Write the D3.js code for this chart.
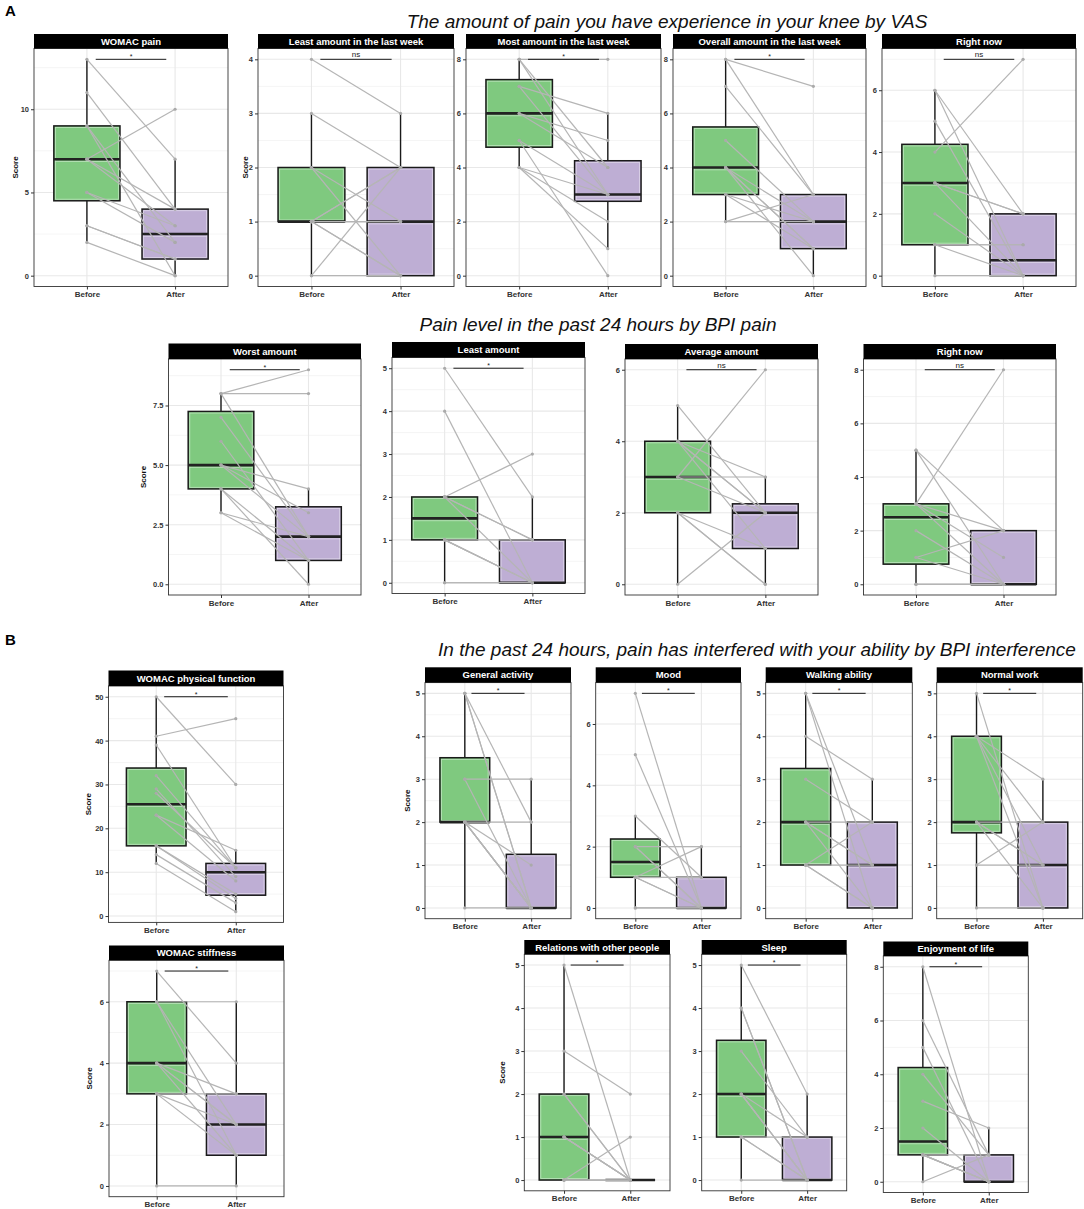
<!DOCTYPE html>
<html>
<head>
<meta charset="utf-8">
<script src="https://cdn.jsdelivr.net/npm/d3@7"></script>
<style>
  body { margin: 0; background: #fff; }
  svg { font-family: "Liberation Sans", Arial, sans-serif; }
</style>
</head>
<body>
<svg id="chart" width="1084" height="1209"></svg>
<script>
// ---- data (one subject per index, Before -> After) ----
const groups = ["Before", "After"];

const panelNames = [
  "WOMAC pain", "Least amount in the last week", "Most amount in the last week",
  "Overall amount in the last week", "Right now",
  "Worst amount", "Least amount", "Average amount", "Right now",
  "WOMAC physical function", "General activity", "Mood", "Walking ability", "Normal work",
  "WOMAC stiffness", "Relations with other people", "Sleep", "Enjoyment of life"
];

const sigLabels = ["*", "ns", "*", "*", "ns", "*", "*", "ns", "ns",
  "*", "*", "*", "*", "*", "*", "*", "*", "*"];

const beforeScores = [
  [13, 11, 9, 9, 7, 7, 7, 5, 5, 3, 3, 2],
  [4, 3, 2, 2, 1, 1, 1, 1, 1, 1, 0, 0],
  [8, 8, 8, 7, 7, 6, 6, 5, 5, 4, 4, 4],
  [8, 8, 7, 5, 4, 4, 4, 4, 3, 3, 2, 2],
  [6, 6, 5, 4, 3, 3, 3, 2, 1, 1, 1, 0],
  [8, 8, 8, 7, 6, 5, 5, 5, 4, 4, 3, 3],
  [5, 4, 2, 2, 2, 2, 1, 1, 1, 1, 0, 0],
  [5, 4, 4, 4, 4, 3, 3, 3, 2, 2, 2, 0],
  [5, 5, 3, 3, 3, 3, 2, 1, 1, 0, 0, 0],
  [50, 41, 39, 32, 29, 28, 23, 23, 16, 16, 14, 12],
  [5, 5, 5, 3, 3, 2, 2, 2, 2, 2, 2, 0],
  [7, 5, 3, 2, 2, 2, 1, 1, 1, 1, 0, 0],
  [5, 5, 4, 3, 2, 2, 2, 2, 1, 1, 1, 1],
  [5, 4, 4, 4, 4, 2, 2, 2, 2, 1, 1, 0],
  [7, 6, 6, 6, 4, 4, 4, 4, 3, 3, 3, 0],
  [5, 3, 2, 2, 1, 1, 1, 1, 0, 0, 0, 0],
  [5, 4, 4, 3, 2, 2, 2, 2, 1, 1, 1, 0],
  [8, 6, 5, 4, 3, 2, 1, 1, 1, 1, 1, 0]
];

const afterScores = [
  [7, 4, 0, 2, 10, 3, 4, 3, 2, 1, 1, 0],
  [3, 2, 1, 0, 2, 1, 0, 2, 1, 0, 2, 0],
  [8, 3, 4, 6, 3, 5, 4, 3, 0, 3, 2, 1],
  [7, 3, 3, 2, 2, 1, 1, 0, 2, 1, 3, 2],
  [2, 0, 0, 7, 2, 0, 2, 0, 1, 0, 1, 0],
  [9, 8, 2, 2, 1, 4, 3, 2, 1, 0, 2, 1],
  [2, 0, 3, 1, 0, 1, 1, 0, 0, 0, 0, 0],
  [2, 3, 2, 2, 1, 6, 3, 2, 1, 0, 0, 2],
  [2, 0, 8, 2, 0, 1, 0, 2, 0, 0, 0, 0],
  [30, 45, 11, 11, 9, 11, 15, 8, 5, 4, 3, 1],
  [2, 0, 0, 3, 0, 2, 1, 0, 0, 0, 0, 0],
  [0, 0, 1, 2, 0, 0, 2, 1, 0, 0, 0, 0],
  [0, 1, 3, 2, 2, 1, 0, 1, 1, 0, 2, 0],
  [0, 3, 2, 1, 0, 2, 1, 0, 1, 2, 1, 0],
  [4, 6, 1, 2, 3, 2, 2, 1, 3, 2, 1, 0],
  [0, 2, 0, 0, 0, 0, 0, 0, 1, 0, 0, 0],
  [2, 0, 0, 1, 1, 0, 0, 0, 1, 0, 0, 0],
  [0, 1, 0, 1, 2, 0, 0, 0, 0, 0, 1, 1]
];

const yTicks = [
  [0, 5, 10], [0, 1, 2, 3, 4], [0, 2, 4, 6, 8], [0, 2, 4, 6, 8], [0, 2, 4, 6],
  [0, 2.5, 5, 7.5], [0, 1, 2, 3, 4, 5], [0, 2, 4, 6], [0, 2, 4, 6, 8],
  [0, 10, 20, 30, 40, 50], [0, 1, 2, 3, 4, 5], [0, 2, 4, 6], [0, 1, 2, 3, 4, 5], [0, 1, 2, 3, 4, 5],
  [0, 2, 4, 6], [0, 1, 2, 3, 4, 5], [0, 1, 2, 3, 4, 5], [0, 2, 4, 6, 8]
];

const sectionTitles = [
  "The amount of pain you have experience in your knee by VAS",
  "Pain level in the past 24 hours by BPI pain",
  "In the past 24 hours, pain has interfered with your ability by BPI interference"
];

// ---- layout (pixels): left, right, strip top, plot top, plot bottom, "Score" x ----
const layout = [
  [34, 228, 34, 48.5, 286.5, 15],
  [258, 454, 34, 48.5, 286.5, 245],
  [466, 661, 34, 48.5, 286.5, null],
  [673, 866, 34, 48.5, 286.5, null],
  [882, 1076, 34, 48.5, 286.5, null],
  [168.5, 361, 343.5, 359, 595, 143],
  [392, 585, 342, 357.5, 593.5, null],
  [625, 818, 344, 359, 595, null],
  [863.5, 1056, 344, 359, 595, null],
  [108.5, 283.5, 670.5, 686, 922.4, 88],
  [425, 571, 667.3, 682.6, 918.7, 407],
  [595.7, 741, 667.3, 682.6, 918.7, null],
  [765.7, 912.3, 667.3, 682.6, 918.7, null],
  [936.7, 1082.7, 667.3, 682.6, 918.7, null],
  [109, 284, 945.5, 960.3, 1196.7, 89],
  [524.3, 670, 940, 954.3, 1190.8, 502],
  [701.7, 846.7, 940, 954.3, 1190.8, null],
  [883.3, 1028.3, 941.5, 956, 1192.5, null]
];
const titlePos = [[667, 28], [598, 331], [757, 656]];
const boxColors = ["#7fc97f", "#beaed4"];

const svg = d3.select("#chart");

function drawPanel(i) {
  const [left, right, stripTop, plotTop, plotBottom, scoreX] = layout[i];
  const before = beforeScores[i];
  const after = afterScores[i];
  const all = before.concat(after);
  const lo = d3.min(all), hi = d3.max(all);
  const pad = (hi - lo) * 0.05;

  const x = d3.scalePoint().domain(groups).range([left, right]).padding(0.6);
  const y = d3.scaleLinear().domain([lo - pad, hi + pad]).range([plotBottom, plotTop]);
  const step = x.step();
  const g = svg.append("g");

  // grid
  const ticks = yTicks[i];
  const half = (ticks[1] - ticks[0]) / 2;
  const minor = d3.range(ticks[0] - half, hi + pad, half * 2).filter(v => v > lo - pad);
  g.append("g").selectAll("line").data(minor).join("line")
    .attr("x1", left).attr("x2", right)
    .attr("y1", d => y(d)).attr("y2", d => y(d))
    .attr("stroke", "#f2f2f2").attr("stroke-width", 0.8);
  g.append("g").selectAll("line").data(ticks).join("line")
    .attr("x1", left).attr("x2", right)
    .attr("y1", d => y(d)).attr("y2", d => y(d))
    .attr("stroke", "#e8e8e8").attr("stroke-width", 1.1);
  g.append("g").selectAll("line").data(groups).join("line")
    .attr("x1", d => x(d)).attr("x2", d => x(d))
    .attr("y1", plotTop).attr("y2", plotBottom)
    .attr("stroke", "#e8e8e8").attr("stroke-width", 1.1);

  // boxplots
  [before, after].forEach((vals, k) => {
    const s = vals.slice().sort(d3.ascending);
    const q1 = d3.quantile(s, 0.25), med = d3.quantile(s, 0.5), q3 = d3.quantile(s, 0.75);
    const iqr = q3 - q1;
    const wLo = d3.min(s.filter(v => v >= q1 - 1.5 * iqr));
    const wHi = d3.max(s.filter(v => v <= q3 + 1.5 * iqr));
    const cx = x(groups[k]), bw = step * 0.75;

    g.append("line").attr("x1", cx).attr("x2", cx).attr("y1", y(q3)).attr("y2", y(wHi))
      .attr("stroke", "#1a1a1a").attr("stroke-width", 1.4);
    g.append("line").attr("x1", cx).attr("x2", cx).attr("y1", y(q1)).attr("y2", y(wLo))
      .attr("stroke", "#1a1a1a").attr("stroke-width", 1.4);
    g.append("rect")
      .attr("x", cx - bw / 2).attr("y", y(q3))
      .attr("width", bw).attr("height", y(q1) - y(q3))
      .attr("fill", boxColors[k]).attr("stroke", "#1a1a1a").attr("stroke-width", 1.5);
    if (y(q1) - y(q3) > 4) {
      g.append("rect")
        .attr("x", cx - bw / 2 + 1.6).attr("y", y(q3) + 1.6)
        .attr("width", bw - 3.2).attr("height", y(q1) - y(q3) - 3.2)
        .attr("fill", "none").attr("stroke", "#ffffff").attr("stroke-opacity", 0.5)
        .attr("stroke-width", 0.8);
    }
    if (y(q1) - y(med) > 4) {
      g.append("line")
        .attr("x1", cx - bw / 2 + 1.6).attr("x2", cx + bw / 2 - 1.6)
        .attr("y1", y(med) + 2.3).attr("y2", y(med) + 2.3)
        .attr("stroke", "#ffffff").attr("stroke-opacity", 0.5).attr("stroke-width", 0.8);
    }
    g.append("line")
      .attr("x1", cx - bw / 2).attr("x2", cx + bw / 2)
      .attr("y1", y(med)).attr("y2", y(med))
      .attr("stroke", "#222").attr("stroke-width", 2.6);
  });

  // paired lines and points
  const pairs = d3.zip(before, after);
  g.append("g").selectAll("line").data(pairs).join("line")
    .attr("x1", x("Before")).attr("x2", x("After"))
    .attr("y1", d => y(d[0])).attr("y2", d => y(d[1]))
    .attr("stroke", "#b5b5b5").attr("stroke-width", 1.2);
  const pts = pairs.flatMap(d => [[x("Before"), d[0]], [x("After"), d[1]]]);
  g.append("g").selectAll("circle").data(pts).join("circle")
    .attr("cx", d => d[0]).attr("cy", d => y(d[1])).attr("r", 1.6)
    .attr("fill", "#aaaaaa");

  // panel border
  g.append("rect").attr("x", left).attr("y", plotTop)
    .attr("width", right - left).attr("height", plotBottom - plotTop)
    .attr("fill", "none").attr("stroke", "#333").attr("stroke-width", 0.9);

  // strip
  g.append("rect").attr("x", left).attr("y", stripTop)
    .attr("width", right - left).attr("height", plotTop - stripTop)
    .attr("fill", "#000");
  g.append("text")
    .attr("x", (left + right) / 2).attr("y", (stripTop + plotTop) / 2 + 3.4)
    .attr("text-anchor", "middle").attr("fill", "#fff")
    .attr("font-size", 9.5).attr("font-weight", "bold")
    .text(panelNames[i]);

  // significance bar
  const barY = y(hi);
  g.append("line")
    .attr("x1", x("Before") + step * 0.1).attr("x2", x("After") - step * 0.1)
    .attr("y1", barY).attr("y2", barY)
    .attr("stroke", "#1a1a1a").attr("stroke-width", 1);
  g.append("text")
    .attr("x", (x("Before") + x("After")) / 2).attr("y", barY - (sigLabels[i] === "*" ? 0 : 2))
    .attr("text-anchor", "middle").attr("font-size", sigLabels[i] === "*" ? 7 : 8)
    .attr("fill", "#1a1a1a")
    .text(sigLabels[i]);

  // axes
  const fmt = ticks.some(t => !Number.isInteger(t)) ? d3.format(".1f") : d3.format("d");
  const yAxis = g.append("g").attr("transform", `translate(${left},0)`)
    .call(d3.axisLeft(y).tickValues(ticks).tickSize(3).tickPadding(2).tickFormat(fmt));
  yAxis.select(".domain").remove();
  yAxis.attr("font-family", null).attr("font-size", 7.5).attr("font-weight", "bold").attr("color", "#333");

  const xAxis = g.append("g").attr("transform", `translate(0,${plotBottom})`)
    .call(d3.axisBottom(x).tickSize(3).tickPadding(2));
  xAxis.select(".domain").remove();
  xAxis.attr("font-family", null).attr("font-size", 8).attr("font-weight", "bold").attr("color", "#333");

  if (scoreX !== null) {
    g.append("text")
      .attr("transform", `translate(${scoreX},${(plotTop + plotBottom) / 2}) rotate(-90)`)
      .attr("text-anchor", "middle").attr("dy", "0.35em")
      .attr("font-size", 8).attr("font-weight", "bold").attr("fill", "#111")
      .text("Score");
  }
}

d3.range(panelNames.length).forEach(drawPanel);

// section titles and figure letters
svg.selectAll(".section").data(sectionTitles).join("text")
  .attr("class", "section")
  .attr("x", (d, i) => titlePos[i][0]).attr("y", (d, i) => titlePos[i][1])
  .attr("text-anchor", "middle").attr("font-size", 19).attr("font-style", "italic")
  .attr("fill", "#111")
  .text(d => d);

svg.append("text").attr("x", 5).attr("y", 16).attr("font-size", 15).attr("font-weight", "bold").text("A");
svg.append("text").attr("x", 5).attr("y", 645).attr("font-size", 15).attr("font-weight", "bold").text("B");
</script>
</body>
</html>
